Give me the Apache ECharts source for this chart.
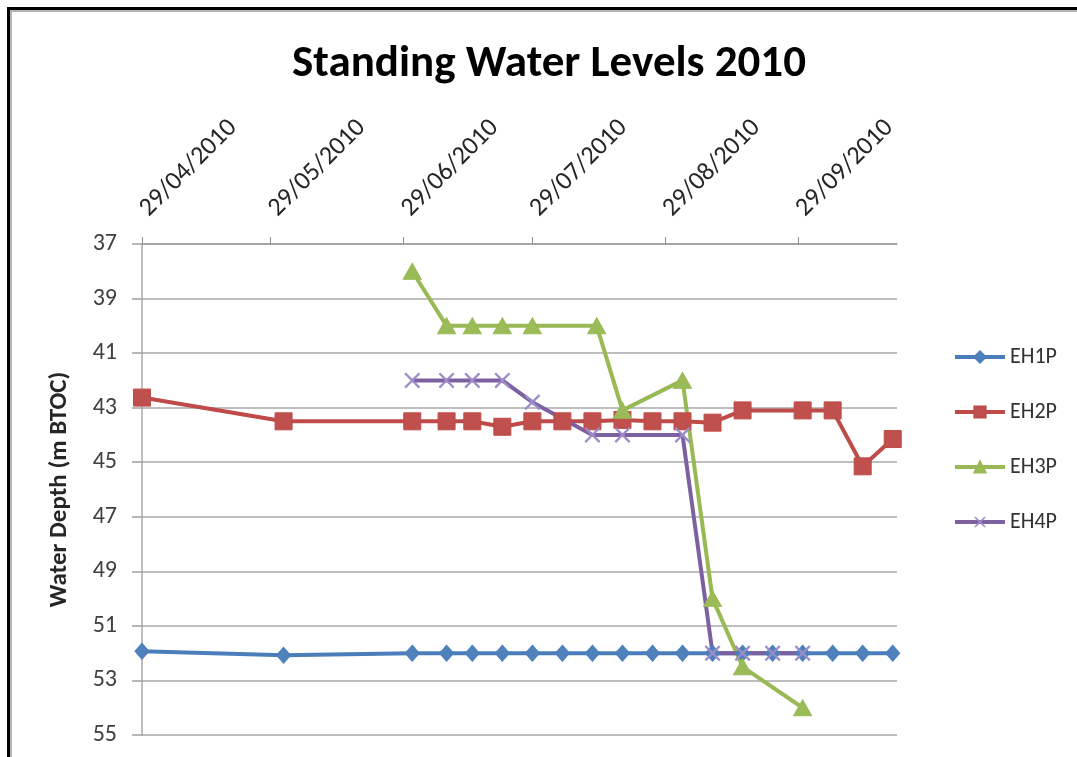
<!DOCTYPE html>
<html>
<head>
<meta charset="utf-8">
<script src="https://cdn.jsdelivr.net/npm/echarts@6/dist/echarts.min.js"></script>
<style>
  html, body { margin: 0; padding: 0; background: #fff; }
  #frame { position: absolute; left: 7px; top: 7px; width: 1200px; height: 900px;
           border-left: 3px solid #000; border-top: 3px solid #000;
           box-shadow: inset 2px 2px 0 #b5b5b5; }
  #chart { position: absolute; left: 0; top: 0; width: 1077px; height: 757px; }
</style>
</head>
<body>
<div id="frame"></div>
<div id="chart"></div>
<script>
const titleText = 'Standing Water Levels 2010';
const yAxisName = 'Water Depth (m BTOC)';
const xTickDates = ['2010-04-29','2010-05-29','2010-06-29','2010-07-29','2010-08-29','2010-09-29'];
const xMin = '2010-04-29';
const xMax = '2010-10-22';
const yMin = 37, yMax = 55, yStep = 2;

const seriesNames = ['EH1P','EH2P','EH3P','EH4P'];

const eh1Dates = ['2010-04-29','2010-06-01','2010-07-01','2010-07-09','2010-07-15','2010-07-22','2010-07-29','2010-08-05','2010-08-12','2010-08-19','2010-08-26','2010-09-02','2010-09-09','2010-09-16','2010-09-23','2010-09-30','2010-10-07','2010-10-14','2010-10-21'];
const eh1Values = [51.93, 52.08, 52.0, 52.0, 52.0, 52.0, 52.0, 52.0, 52.0, 52.0, 52.0, 52.0, 52.0, 52.0, 52.0, 52.0, 52.0, 52.0, 52.0];

const eh2Dates = ['2010-04-29','2010-06-01','2010-07-01','2010-07-09','2010-07-15','2010-07-22','2010-07-29','2010-08-05','2010-08-12','2010-08-19','2010-08-26','2010-09-02','2010-09-09','2010-09-16','2010-09-30','2010-10-07','2010-10-14','2010-10-21'];
const eh2Values = [42.63, 43.5, 43.5, 43.5, 43.5, 43.7, 43.5, 43.5, 43.5, 43.45, 43.5, 43.5, 43.55, 43.1, 43.1, 43.1, 45.15, 44.15];

const eh3Dates = ['2010-07-01','2010-07-09','2010-07-15','2010-07-22','2010-07-29','2010-08-13','2010-08-19','2010-09-02','2010-09-09','2010-09-16','2010-09-30'];
const eh3Values = [38, 40, 40, 40, 40, 40, 43.1, 42, 50, 52.5, 54];

const eh4Dates = ['2010-07-01','2010-07-09','2010-07-15','2010-07-22','2010-07-29','2010-08-12','2010-08-19','2010-09-02','2010-09-09','2010-09-16','2010-09-23','2010-09-30'];
const eh4Values = [42, 42, 42, 42, 42.8, 44, 44, 44, 52, 52, 52, 52];

const FONT = 'Carlito, Calibri, Lato, "Open Sans", sans-serif';
const ts = s => echarts.number.parseDate(s).getTime();
const pair = (d, v) => d.map((x, i) => [ts(x), v[i]]);
const pad = n => (n < 10 ? '0' : '') + n;
const fmtDate = v => { const d = new Date(v); return pad(d.getDate()) + '/' + pad(d.getMonth() + 1) + '/' + d.getFullYear(); };

const crossPath = 'path://M0,1 L1,0 L5,4 L9,0 L10,1 L6,5 L10,9 L9,10 L5,6 L1,10 L0,9 L4,5 Z';

// centre the title on the reference's title centre
const TITLE_SIZE = 45;
const mctx = document.createElement('canvas').getContext('2d');
mctx.font = 'bold ' + TITLE_SIZE + 'px ' + FONT;
const titleW = mctx.measureText(titleText).width;

const chart = echarts.init(document.getElementById('chart'), null, { renderer: 'canvas' });
chart.setOption({
  backgroundColor: 'transparent',
  animation: false,
  title: {
    text: titleText,
    left: 549 - titleW / 2 - 5,
    top: 37,
    textStyle: { fontFamily: FONT, fontWeight: 'bold', fontSize: TITLE_SIZE, color: '#000' }
  },
  legend: {
    orient: 'vertical',
    left: 948,
    top: 340,
    itemWidth: 50,
    itemHeight: 14,
    itemGap: 31,
    data: seriesNames,
    lineStyle: { width: 4 },
    textStyle: { fontFamily: FONT, fontSize: 22, color: '#333', lineHeight: 24 }
  },
  grid: { left: 142, top: 244, right: 180, bottom: 22, containLabel: false },
  xAxis: {
    type: 'value',
    position: 'top',
    min: ts(xMin),
    max: ts(xMax),
    axisLine: { show: true, lineStyle: { color: '#a0a0a0', width: 1.5 } },
    axisTick: { show: true, length: 7, customValues: xTickDates.map(ts), lineStyle: { color: '#909090' } },
    axisLabel: {
      customValues: xTickDates.map(ts),
      rotate: -45,
      margin: 11,
      padding: [0, 0, 0, 16],
      align: 'left',
      verticalAlign: 'bottom',
      formatter: v => fmtDate(v),
      fontFamily: FONT, fontSize: 26, color: '#262626'
    },
    splitLine: { show: false }
  },
  yAxis: {
    type: 'value',
    inverse: true,
    min: yMin, max: yMax, interval: yStep,
    name: yAxisName,
    nameLocation: 'middle',
    nameGap: 70,
    nameTextStyle: { fontFamily: FONT, fontWeight: 'bold', fontSize: 25, color: '#262626' },
    axisLine: { show: true, lineStyle: { color: '#a8a8a8', width: 1.5 } },
    axisTick: { show: true, length: 10, lineStyle: { color: '#a0a0a0', width: 1.5 } },
    axisLabel: { margin: 25, fontFamily: FONT, fontSize: 24, color: '#404040' },
    splitLine: { show: true, lineStyle: { color: '#a8a8a8', width: 1.5 } }
  },
  series: [
    { name: 'EH1P', type: 'line', data: pair(eh1Dates, eh1Values),
      symbol: 'diamond', symbolSize: [14, 16],
      lineStyle: { color: '#4A7EBB', width: 4 },
      itemStyle: { color: '#4F81BD', borderColor: '#4A7EBB', borderWidth: 1 } },
    { name: 'EH2P', type: 'line', data: pair(eh2Dates, eh2Values),
      symbol: 'rect', symbolSize: 17,
      lineStyle: { color: '#BE4B48', width: 4 },
      itemStyle: { color: '#C0504D', borderColor: '#BE4B48', borderWidth: 1 } },
    { name: 'EH3P', type: 'line', data: pair(eh3Dates, eh3Values),
      symbol: 'triangle', symbolSize: [18, 16],
      lineStyle: { color: '#98B954', width: 4 },
      itemStyle: { color: '#9BBB59', borderColor: '#98B954', borderWidth: 1 } },
    { name: 'EH4P', type: 'line', data: pair(eh4Dates, eh4Values),
      symbol: crossPath, symbolSize: 16,
      lineStyle: { color: '#7D60A0', width: 4 },
      itemStyle: { color: '#9b8cca', borderWidth: 0 } }
  ]
});
</script>
</body>
</html>
